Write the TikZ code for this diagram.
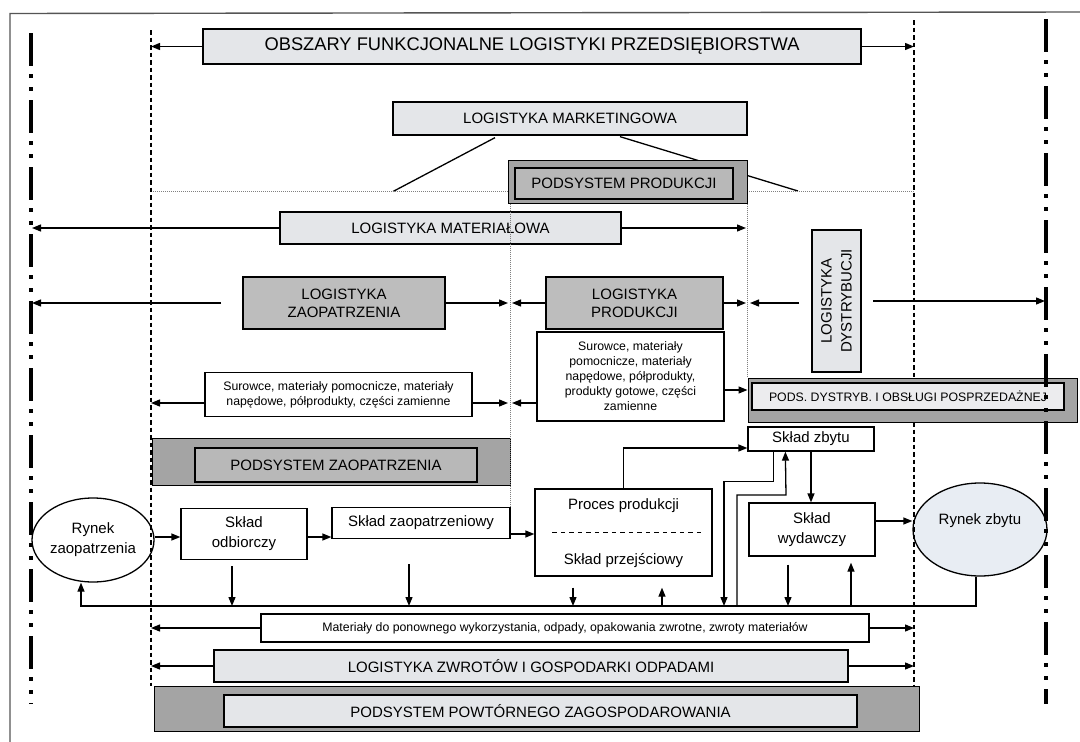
\documentclass[tikz,border=0pt]{standalone}
\usepackage{fontspec}
\setmainfont{Liberation Sans}
\usetikzlibrary{arrows.meta,shapes.geometric}
\definecolor{boxlight}{HTML}{E4E6E9}
\definecolor{boxmid}{HTML}{BDBDBD}
\definecolor{boxdark}{HTML}{A4A4A4}
\definecolor{innermid}{HTML}{B8B8B8}
\definecolor{innerlight}{HTML}{ECECEE}
\definecolor{marketfill}{HTML}{E8EDF3}
\definecolor{framegray}{HTML}{555555}
\newcommand\fsz[2]{\fontsize{#1pt}{#2pt}\selectfont}

\begin{document}
\begin{tikzpicture}[x=1pt,y=-1pt,
  bx/.style={draw, line width=1.3pt, inner sep=0pt, align=center, text=black},
  light/.style={bx, fill=boxlight},
  mid/.style={bx, fill=boxmid},
  dark/.style={draw, line width=1pt, fill=boxdark, inner sep=0pt},
  innerbox/.style={bx, line width=1.8pt},
  plain/.style={bx, fill=white},
  arr/.style={line width=1.3pt, -{Triangle[length=9pt,width=7pt]}},
  ln/.style={line width=1.3pt},
  big/.style={font=\fsz{15}{18}},
  bigsp/.style={font=\fsz{15}{20}},
  small/.style={font=\fsz{12.3}{15}},
  guide/.style={line width=1.3pt, dash pattern=on 4.5pt off 3pt},
  dots/.style={line width=0.6pt, draw=gray, dash pattern=on 1pt off 1pt},
  border/.style={line width=4pt, dash pattern=on 33pt off 8pt on 4pt off 9pt on 4pt off 9pt},
]
\useasboundingbox (0,0) rectangle (1080,742);
\fill[white] (0,0) rectangle (1080,742);

% page frame
\draw[framegray, line width=1.4pt] (1080,12) -- (10,13.5) -- (10,742);

% reference positions of the vertical guides
\coordinate (xLa) at (32,0);
\coordinate (xRa) at (1045,0);
\coordinate (xl) at (151,0);
\coordinate (xr) at (914,0);
\coordinate (mL) at (508,0);
\coordinate (mR) at (512,0);
\coordinate (pL) at (746,0);
\coordinate (pR) at (750,0);
\coordinate (fb) at (0,606);

% ---------- top header ----------
\node[light, minimum width=658pt, minimum height=35pt, font=\fsz{18.3}{22}] (title) at (532,46.5)
  {OBSZARY FUNKCJONALNE LOGISTYKI PRZEDSIĘBIORSTWA};
\draw[arr] (title.west) -- (title.west -| xl);
\draw[arr] (title.east) -- (title.east -| xr);

\node[light, big, minimum width=354pt, minimum height=33pt] (mkt) at (570,118.5) {LOGISTYKA MARKETINGOWA};
\coordinate (m1) at (393,191.5);
\coordinate (m2) at (798,191);
\draw[ln] ([shift={(-75,2)}]mkt.south) -- (m1);
\draw[ln] ([shift={(50,1)}]mkt.south) -- (m2);
\draw[dots] (xl |- 0,191) -- (xr |- 0,191);

\node[dark, minimum width=239pt, minimum height=43pt] (pprodo) at (627.5,181.5) {};
\node[innerbox, fill=innermid, big, minimum width=218pt, minimum height=31pt] (pprod) at (624,183.5) {PODSYSTEM PRODUKCJI};

% ---------- functional areas ----------
\node[light, big, minimum width=341pt, minimum height=32pt] (mat) at (450.5,228) {LOGISTYKA MATERIAŁOWA};
\draw[arr] (mat.west) -- (mat.west -| xLa);
\draw[arr] (mat.east) -- (mat.east -| pL);

\node[mid, big, minimum width=202pt, minimum height=52pt] (lzaop) at (344,303) {LOGISTYKA\\ZAOPATRZENIA};
\node[mid, big, minimum width=177pt, minimum height=52pt] (lprod) at (634.5,303) {LOGISTYKA\\PRODUKCJI};
\node[light, rotate=90, minimum width=142pt, minimum height=49pt, font=\fsz{15}{20}] (ldyst) at (836.5,301) {LOGISTYKA\\DYSTRYBUCJI};
\coordinate (zs) at (221,303);
\coordinate (ds1) at (799,303);
\coordinate (ds2) at (873,301);
\draw[arr] (zs) -- (zs -| xLa);
\draw[arr] (lzaop.east) -- (lzaop.east -| mL);
\draw[arr] (lprod.west) -- (lprod.west -| mR);
\draw[arr] (lprod.east) -- (lprod.east -| pL);
\draw[arr] (ds1) -- (ds1 -| pR);
\draw[arr] (ds2) -- (ds2 -| xRa);

\node[plain, small, minimum width=267pt, minimum height=44pt] (lsur) at (338.5,394.5)
  {Surowce, materiały pomocnicze, materiały\\napędowe, półprodukty, części zamienne};
\node[plain, small, minimum width=187pt, minimum height=89pt] (msur) at (630.5,376.5)
  {Surowce, materiały\\pomocnicze, materiały\\napędowe, półprodukty,\\produkty gotowe, części\\zamienne};
\draw[arr] (lsur.west |- 0,403) -- (xl |- 0,403);
\draw[arr] (lsur.east |- 0,403) -- (mL |- 0,403);
\draw[arr] (msur.west |- 0,403) -- (mR |- 0,403);

\node[dark, minimum width=329pt, minimum height=44pt] (pdysto) at (912.5,400) {};
\node[innerbox, fill=innerlight, small, minimum width=312pt, minimum height=27pt] (pdyst) at (908,396.5)
  {PODS. DYSTRYB. I OBSŁUGI POSPRZEDAŻNEJ};
\draw[arr] (msur.east |- 0,390) -- (pdysto.west |- 0,390);

% ---------- material flow ----------
\node[dark, minimum width=358pt, minimum height=46.5pt] (pzaopo) at (331,462) {};
\node[innerbox, fill=innermid, big, minimum width=282pt, minimum height=34pt] (pzaop) at (336,465) {PODSYSTEM ZAOPATRZENIA};

\node[plain, big, minimum width=126pt, minimum height=24pt] (szb) at (811,439) {Skład zbytu};

\node[bx, ellipse, fill=white, bigsp, minimum width=122pt, minimum height=84pt] (rzp) at (93,540) {Rynek\\zaopatrzenia};
\node[plain, bigsp, minimum width=126pt, minimum height=51pt] (sodb) at (244,534) {Skład\\odbiorczy};
\node[plain, big, minimum width=178pt, minimum height=31.5pt] (szap) at (421,523) {Skład zaopatrzeniowy};
\node[plain, minimum width=177pt, minimum height=87pt] (proc) at (623.5,532.5) {};
\node[big] (proct) at (623.5,506) {Proces produkcji};
\node[big] (przej) at (623.5,561) {Skład przejściowy};
\draw[line width=1pt, dash pattern=on 4.5pt off 4pt] ([xshift=18pt]proc.west) -- ([xshift=-10pt]proc.east);
\node[plain, bigsp, minimum width=126pt, minimum height=53pt] (swyd) at (812,529.5) {Skład\\wydawczy};
\node[bx, ellipse, fill=marketfill, minimum width=134pt, minimum height=93pt] (rzb) at (980,529.5) {};
\node[big] (rzbt) at (980,521) {Rynek zbytu};

\draw[dots] (szap.north east |- pprodo.south) -- (szap.north east);
\draw[dots] (pprodo.south east) -- (pprodo.south east |- pdysto.north);

\draw[arr] (rzp.east |- 0,537) -- (sodb.west |- 0,537);
\draw[arr] (sodb.east |- 0,537) -- (szap.west |- 0,537);
\draw[arr] (szap.east |- 0,534) -- (proc.west |- 0,534);
\draw[arr] (proc.north) -- (proc.north |- 0,448) -- (szb.west |- 0,448);
\draw[arr] (szb.south) -- (szb.south |- swyd.north);
\draw[arr] (swyd.east |- 0,521) -- (rzb.west |- 0,521);
\draw[arr] ([xshift=26pt]szb.south west) -- ++(0,30) -| (724,0 |- fb);
\draw[arr] (737,0 |- fb) |- (786,495) -- ([xshift=38pt]szb.south west);

% returns to the recovery line
\draw[arr] ([shift={(-12,6)}]sodb.south) -- ([xshift=-12pt]sodb.south |- fb);
\draw[arr] ([shift={(-12,25)}]szap.south) -- ([xshift=-12pt]szap.south |- fb);
\draw[arr] ([shift={(-50.5,11)}]proc.south) -- ([xshift=-50.5pt]proc.south |- fb);
\draw[arr] ([xshift=38.5pt]proc.south |- fb) -- ([shift={(38.5,11)}]proc.south);
\draw[arr] ([shift={(-24,8)}]swyd.south) -- ([xshift=-24pt]swyd.south |- fb);
\draw[arr] ([xshift=39pt]swyd.south |- fb) -- ([shift={(39,6)}]swyd.south);
\draw[arr] ([xshift=-4pt]rzb.south) |- ([xshift=-12pt]rzp.south |- fb) -- ([xshift=-12pt]rzp.south);

% ---------- bottom section ----------
\node[plain, small, minimum width=608pt, minimum height=28pt] (mat2) at (565,628)
  {Materiały do ponownego wykorzystania, odpady, opakowania zwrotne, zwroty materiałów};
\draw[arr] (mat2.west) -- (mat2.west -| xl);
\draw[arr] (mat2.east) -- (mat2.east -| xr);

\node[light, big, minimum width=634pt, minimum height=32pt] (lzwr) at (531,666) {LOGISTYKA ZWROTÓW I GOSPODARKI ODPADAMI};
\draw[arr] (lzwr.west) -- (lzwr.west -| xl);
\draw[arr] (lzwr.east) -- (lzwr.east -| xr);

\node[dark, minimum width=765pt, minimum height=45pt] (ppowo) at (536.5,708.5) {};
\node[innerbox, fill=boxlight, big, minimum width=633pt, minimum height=32pt] (ppow) at (540.5,711) {PODSYSTEM POWTÓRNEGO ZAGOSPODAROWANIA};

% ---------- area borders ----------
\draw[guide] (151,30) -- (151,686);
\draw[guide] (914,20) -- (914,378);
\draw[guide] (914,422) -- (914,686);
\draw[border] (31,33) -- (31,704);
\draw[border] (1046,19) -- (1046,704);
\end{tikzpicture}
\end{document}
